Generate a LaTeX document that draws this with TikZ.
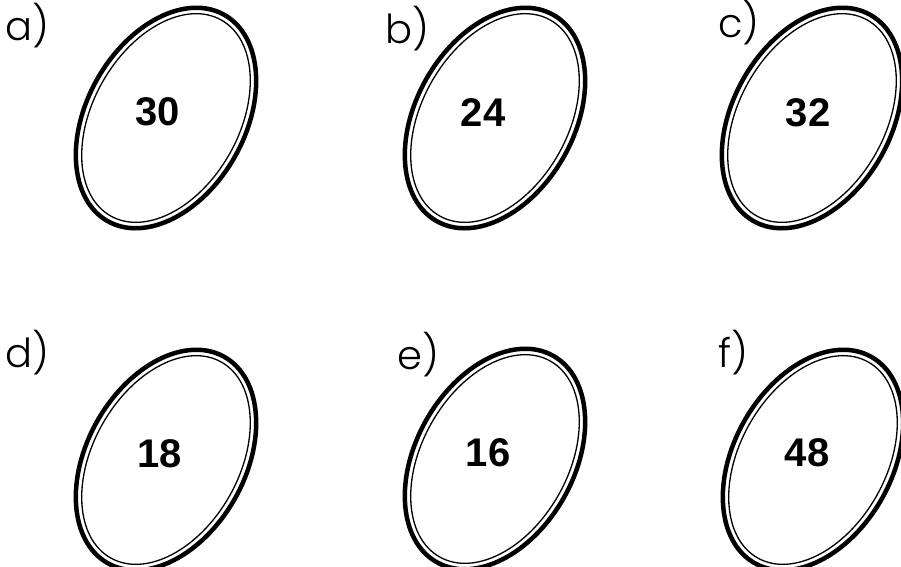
\documentclass[tikz,border=0pt]{standalone}
\usepackage{fontspec}
\setmainfont{Poppins Light}
\newfontfamily\numfont{Liberation Sans}
\begin{document}
\begin{tikzpicture}[x=1pt,y=-1pt,
  outerring/.style={line width=4.5pt},
  innerring/.style={line width=1.3pt},
  lab/.style={font=\fontsize{40}{40}\selectfont, anchor=base west, inner sep=0pt},
  num/.style={font=\numfont\bfseries\fontsize{40}{40}\selectfont, inner sep=0pt}]
\useasboundingbox (0,0) rectangle (901,566);
\foreach \n/\cx/\cy in {a/166/118, b/495/118, c/812/118, d/166/460, e/495/459, f/813/460}{
  \coordinate (c\n) at (\cx,\cy);
  \draw[outerring, rotate around={-29.5:(c\n)}] (c\n) ellipse [x radius=79, y radius=118.5];
  \draw[innerring, rotate around={-29.5:(c\n)}] (c\n) ellipse [x radius=73, y radius=112.5];
}
\node[lab] (la) at (5,40) {a)};
\node[lab] (lb) at (385,43) {b)};
\node[lab] (lc) at (718,37) {c)};
\node[lab] (ld) at (5,367) {d)};
\node[lab] (le) at (397,369) {e)};
\node[lab] (lf) at (718,367) {f)};
\node[num] (na) at (158,112) {30};
\node[num] (nb) at (483,113) {24};
\node[num] (nc) at (808,113) {32};
\node[num] (nd) at (160,454) {18};
\node[num] (ne) at (488,453) {16};
\node[num] (nf) at (807,453) {48};
\end{tikzpicture}
\end{document}
